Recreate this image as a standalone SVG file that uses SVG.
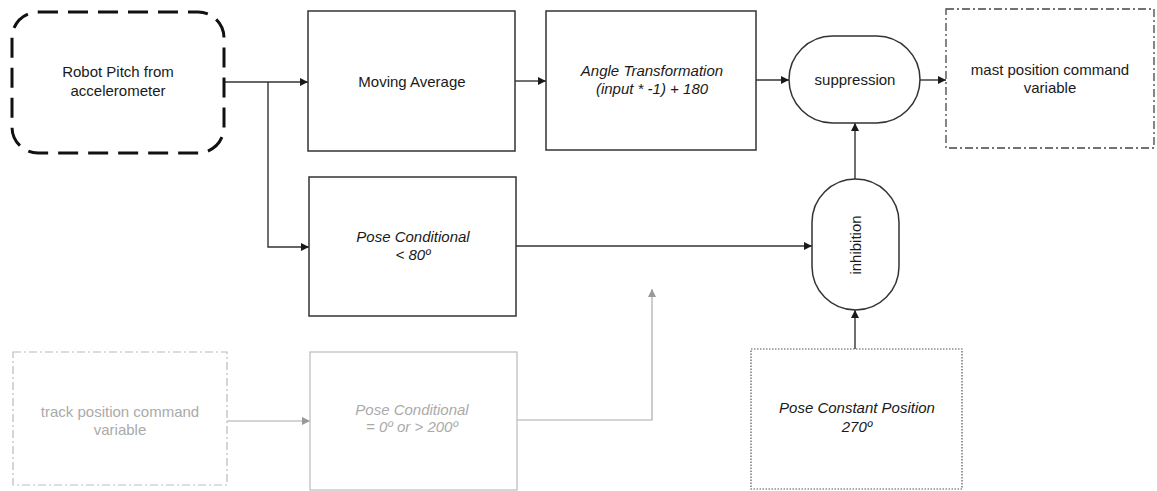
<svg xmlns="http://www.w3.org/2000/svg" width="1157" height="491" viewBox="0 0 1157 491">
<defs>
<marker id="ah" viewBox="0 0 10 10" refX="10" refY="5" markerWidth="9" markerHeight="8" markerUnits="userSpaceOnUse" orient="auto"><path d="M0,0 L10,5 L0,10 z" fill="#1a1a1a"/></marker>
<marker id="ahg" viewBox="0 0 10 10" refX="10" refY="5" markerWidth="9" markerHeight="8" markerUnits="userSpaceOnUse" orient="auto"><path d="M0,0 L10,5 L0,10 z" fill="#999"/></marker>
<style>
.box{fill:#fff;stroke:#333;stroke-width:1.5}
.gbox{fill:#fff;stroke:#bbb;stroke-width:1.2}
.t{font-family:"Liberation Sans",Arial,sans-serif;font-size:15px;fill:#1a1a1a;text-anchor:middle}
.i{font-style:italic}
.g{fill:#aaa}
.c{fill:none;stroke:#333;stroke-width:1.4}
.gc{fill:none;stroke:#aaa;stroke-width:1.2}
</style>
</defs>
<rect width="1157" height="491" fill="#fff"/>
<g id="connectors">
<path class="c" d="M224,82 H308" marker-end="url(#ah)"/>
<path class="c" d="M268,82 V247 H309" marker-end="url(#ah)"/>
<path class="c" d="M515,81 H546" marker-end="url(#ah)"/>
<path class="c" d="M756,80 H789" marker-end="url(#ah)"/>
<path class="c" d="M920,80 H946" marker-end="url(#ah)"/>
<path class="c" d="M516,246 H812" marker-end="url(#ah)"/>
<path class="c" d="M855,179 V123" marker-end="url(#ah)"/>
<path class="c" d="M855,349 V310" marker-end="url(#ah)"/>
<path class="gc" d="M227,421 H310" marker-end="url(#ahg)"/>
<path class="gc" d="M517,420 H652 V289" marker-end="url(#ahg)"/>
</g>
<g id="robot-pitch">
<rect x="12" y="12" width="212" height="141" rx="26" fill="#fff" stroke="#111" stroke-width="3" stroke-dasharray="20 10"/>
<text class="t" x="118" y="77">Robot Pitch from</text>
<text class="t" x="118" y="96">accelerometer</text>
</g>
<g id="moving-average">
<rect class="box" x="308" y="11" width="207" height="140"/>
<text class="t" x="412" y="87">Moving Average</text>
</g>
<g id="angle-transformation">
<rect class="box" x="546" y="11" width="210" height="139"/>
<text class="t i" x="652" y="76">Angle Transformation</text>
<text class="t i" x="652" y="94">(input * -1) + 180</text>
</g>
<g id="suppression">
<rect class="box" x="789" y="36" width="131" height="87" rx="43.5"/>
<text class="t" x="855" y="85">suppression</text>
</g>
<g id="mast-position">
<rect x="946" y="9" width="208" height="139" fill="#fff" stroke="#444" stroke-width="1.3" stroke-dasharray="8 3 2 3"/>
<text class="t" x="1050" y="75">mast position command</text>
<text class="t" x="1050" y="93">variable</text>
</g>
<g id="pose-conditional-80">
<rect class="box" x="309" y="177" width="207" height="139"/>
<text class="t i" x="413" y="242">Pose Conditional</text>
<text class="t i" x="413" y="260">&lt; 80º</text>
</g>
<g id="inhibition">
<rect class="box" x="812" y="179" width="87" height="131" rx="43.5"/>
<text class="t" transform="translate(861,245) rotate(-90)">inhibition</text>
</g>
<g id="pose-constant">
<rect x="751" y="349" width="211" height="140" fill="#fff" stroke="#555" stroke-width="1.2" stroke-dasharray="1.5 1.5"/>
<text class="t i" x="857" y="413">Pose Constant Position</text>
<text class="t i" x="857" y="432">270º</text>
</g>
<g id="track-position">
<rect class="gbox" x="13" y="352" width="214" height="133" stroke-dasharray="8 3 2 3"/>
<text class="t g" x="120" y="417">track position command</text>
<text class="t g" x="120" y="435">variable</text>
</g>
<g id="pose-conditional-200">
<rect class="gbox" x="310" y="352" width="207" height="138"/>
<text class="t i g" x="412" y="415">Pose Conditional</text>
<text class="t i g" x="412" y="432">= 0º or &gt; 200º</text>
</g>
</svg>
